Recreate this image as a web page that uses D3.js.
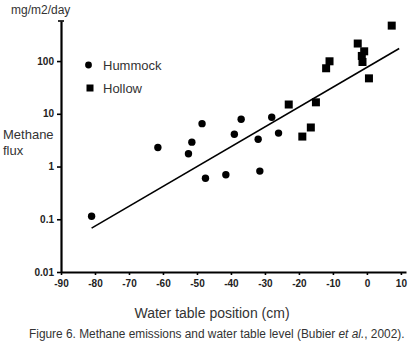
<!DOCTYPE html>
<html>
<head>
<meta charset="utf-8">
<script src="https://cdn.jsdelivr.net/npm/d3@7"></script>
<style>
  body { margin: 0; background: #fff; }
  text { font-family: "Liberation Sans", Arial, sans-serif; }
</style>
</head>
<body>
<div id="chart"></div>
<script>
(function(){
    // hummock plots (circles)
    const hummockX = [-81, -61.5, -52.5, -51.5, -48.5, -47.5, -41.5, -39, -37, -32, -31.5, -28, -26];
    const hummockY = [0.114, 2.3, 1.75, 2.9, 6.5, 0.6, 0.7, 4.1, 7.9, 3.3, 0.82, 8.6, 4.3];
    // hollow plots (squares)
    const hollowX = [-23, -19, -16.5, -15, -12, -11, -2.7, -1.5, -1.3, -0.8, 0.6, 7.3];
    const hollowY = [15, 3.7, 5.5, 16.5, 73, 99, 215, 125, 96, 153, 47, 470];
    // regression line end points
    const fitX = [-81, 9.5];
    const fitY = [0.068, 173];

    const xTicks = [-90, -80, -70, -60, -50, -40, -30, -20, -10, 0, 10];
    const yTicks = [0.01, 0.1, 1, 10, 100];
    const xMax = 11.5;   // axis runs a little past the last tick
    const yMax = 575;    // axis runs above the last tick

    const width = 409, height = 357;

    const svg = d3.select('#chart')
        .append('svg')
            .attr('width', width)
            .attr('height', height);

    const x = d3.scaleLinear()
        .domain([-90, xMax])
        .range([61, 406]);

    const y = d3.scaleLog()
        .domain([0.01, yMax])
        .range([272, 21]);

    // y axis
    const yAxis = d3.axisLeft(y)
        .tickValues(yTicks)
        .tickFormat(d => String(d))
        .tickSize(4)
        .tickSizeOuter(0);

    const gy = svg.append('g')
        .attr('transform', `translate(${x(-90)}, 0)`)
        .call(yAxis);

    gy.select('.domain').attr('stroke-width', 2.2);
    gy.selectAll('.tick line').attr('stroke-width', 1.6).attr('x2', -4).attr('x1', 1);
    gy.selectAll('.tick text')
        .attr('x', -7)
        .style('font-size', '10px')
        .style('font-weight', 'bold')
        .style('fill', '#222');

    // cap tick at top of y axis
    gy.append('line')
        .attr('x1', -3).attr('x2', 3)
        .attr('y1', y(yMax)).attr('y2', y(yMax))
        .attr('stroke', '#000').attr('stroke-width', 1.6);

    // x axis
    const xAxis = d3.axisBottom(x)
        .tickValues(xTicks)
        .tickFormat(d => String(d))
        .tickSize(3)
        .tickSizeOuter(0);

    const gx = svg.append('g')
        .attr('transform', `translate(0, ${y(0.01)})`)
        .call(xAxis);

    gx.select('.domain').attr('stroke-width', 2.2);
    gx.selectAll('.tick line').attr('stroke-width', 1.6);
    gx.selectAll('.tick text')
        .attr('y', 8)
        .style('font-size', '10px')
        .style('font-weight', 'bold')
        .style('fill', '#222');

    // regression line
    svg.append('line')
        .attr('x1', x(fitX[0])).attr('y1', y(fitY[0]))
        .attr('x2', x(fitX[1])).attr('y2', y(fitY[1]))
        .attr('stroke', '#000')
        .attr('stroke-width', 1.6);

    // hummock
    svg.selectAll('.hummock')
        .data(hummockX.map((d, i) => [d, hummockY[i]]))
        .enter()
        .append('circle')
            .attr('class', 'hummock')
            .attr('cx', d => x(d[0]))
            .attr('cy', d => y(d[1]))
            .attr('r', 3.7)
            .style('fill', '#000');

    // hollow
    const s = 8;
    svg.selectAll('.hollow')
        .data(hollowX.map((d, i) => [d, hollowY[i]]))
        .enter()
        .append('rect')
            .attr('class', 'hollow')
            .attr('x', d => x(d[0]) - s / 2)
            .attr('y', d => y(d[1]) - s / 2)
            .attr('width', s)
            .attr('height', s)
            .style('fill', '#000');

    // legend
    const legend = svg.append('g');
    legend.append('circle')
        .attr('cx', 88.5).attr('cy', 65).attr('r', 3.4)
        .style('fill', '#000');
    legend.append('rect')
        .attr('x', 86.5).attr('y', 84.5).attr('width', 7).attr('height', 7)
        .style('fill', '#000');
    legend.append('text')
        .attr('x', 103).attr('y', 70)
        .style('font-size', '13px').style('fill', '#333')
        .text('Hummock');
    legend.append('text')
        .attr('x', 103).attr('y', 93)
        .style('font-size', '13px').style('fill', '#333')
        .text('Hollow');

    // labels
    svg.append('text')
        .attr('x', 11).attr('y', 14)
        .style('font-size', '12px').style('fill', '#333')
        .text('mg/m2/day');

    svg.append('text')
        .attr('x', 3).attr('y', 139)
        .style('font-size', '13px').style('fill', '#333')
        .text('Methane');
    svg.append('text')
        .attr('x', 3).attr('y', 155)
        .style('font-size', '13px').style('fill', '#333')
        .text('flux');

    svg.append('text')
        .attr('x', 212).attr('y', 318)
        .style('text-anchor', 'middle')
        .style('font-size', '14px').style('fill', '#333')
        .text('Water table position (cm)');

    // caption: condensed look by squeezing horizontally
    const capG = svg.append('g');
    const cap = capG.append('text')
        .attr('x', 0).attr('y', 0)
        .style('font-size', '13.5px').style('fill', '#333');
    cap.append('tspan').text('Figure 6. Methane emissions and water table level (Bubier ');
    cap.append('tspan').style('font-style', 'italic').text('et al.');
    cap.append('tspan').text(', 2002).');
    const capW = cap.node().getComputedTextLength();
    const k = 376 / capW;
    capG.attr('transform', `translate(29, 338) scale(${k}, 1)`);
}())
</script>
</body>
</html>
